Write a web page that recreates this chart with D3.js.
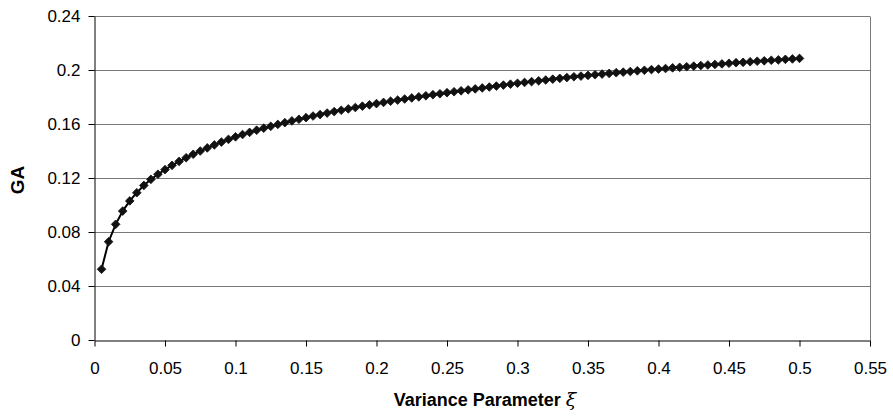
<!DOCTYPE html>
<html><head><meta charset="utf-8">
<script src="https://cdn.jsdelivr.net/npm/d3@7"></script>
<style>body{margin:0;background:#fff}</style>
</head><body><svg id="c" width="893" height="419"></svg>
<script>
const xi = [0.005,0.01,0.015,0.02,0.025,0.03,0.035,0.04,0.045,0.05,
0.055,0.06,0.065,0.07,0.075,0.08,0.085,0.09,0.095,0.1,
0.105,0.11,0.115,0.12,0.125,0.13,0.135,0.14,0.145,0.15,
0.155,0.16,0.165,0.17,0.175,0.18,0.185,0.19,0.195,0.2,
0.205,0.21,0.215,0.22,0.225,0.23,0.235,0.24,0.245,0.25,
0.255,0.26,0.265,0.27,0.275,0.28,0.285,0.29,0.295,0.3,
0.305,0.31,0.315,0.32,0.325,0.33,0.335,0.34,0.345,0.35,
0.355,0.36,0.365,0.37,0.375,0.38,0.385,0.39,0.395,0.4,
0.405,0.41,0.415,0.42,0.425,0.43,0.435,0.44,0.445,0.45,
0.455,0.46,0.465,0.47,0.475,0.48,0.485,0.49,0.495,0.5];
const ga = [0.0524,0.0728,0.0857,0.0955,0.1030,0.1091,0.1145,0.1190,0.1228,0.1262,
0.1294,0.1323,0.1350,0.1376,0.1400,0.1423,0.1445,0.1466,0.1486,0.1505,
0.1522,0.1538,0.1554,0.1569,0.1583,0.1597,0.1610,0.1623,0.1635,0.1647,
0.1659,0.1670,0.1681,0.1692,0.1702,0.1712,0.1722,0.1732,0.1742,0.1751,
0.1760,0.1769,0.1777,0.1785,0.1793,0.1801,0.1809,0.1817,0.1824,0.1832,
0.1839,0.1846,0.1853,0.1860,0.1867,0.1874,0.1881,0.1888,0.1895,0.1902,
0.1908,0.1914,0.1920,0.1926,0.1932,0.1938,0.1944,0.1950,0.1955,0.1960,
0.1965,0.1970,0.1975,0.1980,0.1984,0.1989,0.1994,0.1998,0.2003,0.2007,
0.2011,0.2016,0.2020,0.2024,0.2029,0.2033,0.2037,0.2041,0.2045,0.2050,
0.2054,0.2057,0.2061,0.2065,0.2068,0.2072,0.2075,0.2079,0.2082,0.2086];
const xTicks = [0,0.05,0.1,0.15,0.2,0.25,0.3,0.35,0.4,0.45,0.5,0.55];
const xTickLabels = ["0","0.05","0.1","0.15","0.2","0.25","0.3","0.35","0.4","0.45","0.5","0.55"];
const yTicks = [0,0.04,0.08,0.12,0.16,0.2,0.24];
const yTickLabels = ["0","0.04","0.08","0.12","0.16","0.2","0.24"];

const L=94.5, R=870, T=16, B=340;
const svg = d3.select("#c");
const x = d3.scaleLinear().domain([0,0.55]).range([L,R]);
const y = d3.scaleLinear().domain([0,0.24]).range([B,T]);
const font = "Liberation Sans, Arial, sans-serif";

// gridlines
svg.append("g").selectAll("line").data(yTicks.slice(1)).join("line")
  .attr("x1",L).attr("x2",R).attr("y1",d=>Math.round(y(d))+0.5).attr("y2",d=>Math.round(y(d))+0.5)
  .attr("stroke","#7a7a7a").attr("stroke-width",1);
// right border
svg.append("line").attr("x1",R+0.5).attr("x2",R+0.5).attr("y1",T+0.5).attr("y2",B)
  .attr("stroke","#7a7a7a");

// axes
const xAxis = d3.axisBottom(x).tickValues(xTicks).tickFormat((d,i)=>xTickLabels[i]).tickSize(6).tickSizeOuter(0);
const gx = svg.append("g").attr("transform",`translate(0,${B+0.5})`).call(xAxis);
gx.select(".domain").attr("stroke","#000");
gx.selectAll(".tick line").attr("stroke","#000");
gx.selectAll("text").attr("font-family",font).attr("font-size",17).attr("fill","#000")
  .attr("y",33).attr("dy",0);

const yAxis = d3.axisLeft(y).tickValues(yTicks).tickFormat((d,i)=>yTickLabels[i]).tickSize(6).tickSizeOuter(0);
const gy = svg.append("g").attr("transform",`translate(${L},0)`).call(yAxis);
gy.select(".domain").attr("stroke","#000");
gy.selectAll(".tick line").attr("stroke","#000");
gy.selectAll("text").attr("font-family",font).attr("font-size",17).attr("fill","#000").attr("x",-14);

// line
const data = xi.map((v,i)=>[v,ga[i]]);
svg.append("path").datum(data)
  .attr("d", d3.line().x(d=>x(d[0])).y(d=>y(d[1])))
  .attr("fill","none").attr("stroke","#000").attr("stroke-width",2);
// markers
const sym = d3.symbol().type(d3.symbolDiamond2).size(48);
svg.append("g").selectAll("path").data(data).join("path")
  .attr("transform",d=>`translate(${x(d[0])},${y(d[1])})`)
  .attr("d",sym).attr("fill","#111").attr("stroke","#111").attr("stroke-width",0.8);

// titles
svg.append("text").attr("transform","translate(24,180) rotate(-90)")
  .attr("text-anchor","middle").attr("font-family",font).attr("font-weight","bold")
  .attr("font-size",19).text("GA");
const xt = svg.append("text").attr("x",485).attr("y",406).attr("text-anchor","middle")
  .attr("font-family",font).attr("font-weight","bold").attr("font-size",18);
xt.append("tspan").text("Variance Parameter ");
xt.append("tspan").attr("font-family","DejaVu Serif, serif").attr("font-style","italic").attr("font-weight","normal").attr("font-size",19).text("ξ");
</script></body></html>
